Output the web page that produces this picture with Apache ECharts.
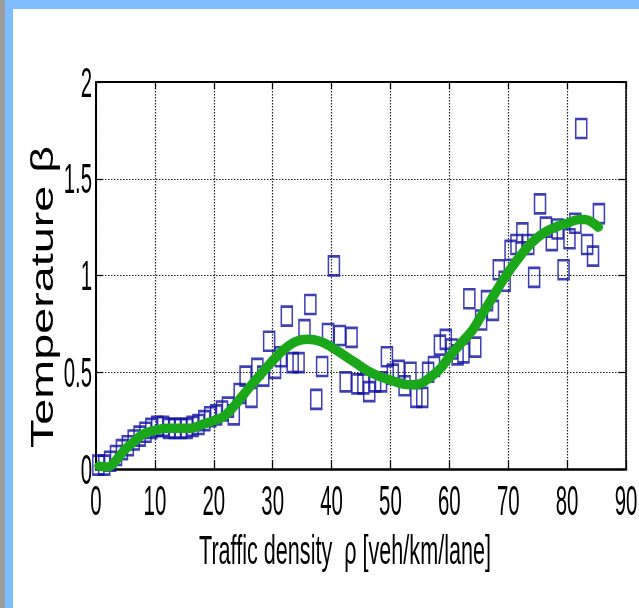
<!DOCTYPE html>
<html>
<head>
<meta charset="utf-8">
<script src="https://cdn.jsdelivr.net/npm/echarts@6/dist/echarts.min.js"></script>
<style>
  html, body { margin:0; padding:0; width:639px; height:608px; background:#ffffff; overflow:hidden; }
  #topband { position:absolute; left:0; top:0; width:639px; height:9px; background:#7fbbff; }
  #leftblue { position:absolute; left:0; top:0; width:13px; height:608px; background:#7fbbff; }
  #leftgray { position:absolute; left:0; top:0; width:5px; height:608px; background:#9c9c9a; }
  #chart { position:absolute; left:0; top:0; width:639px; height:608px; }
</style>
</head>
<body>
<div id="topband"></div>
<div id="leftblue"></div>
<div id="leftgray"></div>
<div id="chart"></div>
<script>
// ---- data ----
const xTicks = [0, 10, 20, 30, 40, 50, 60, 70, 80, 90];
const yTicks = [0, 0.5, 1, 1.5, 2];
const xTitle = 'Traffic density  \u03c1 [veh/km/lane]';
const yTitle = 'Temperature \u03b2';

const densityX = [0.4,1.4,2.4,3.4,4.4,5.4,6.4,7.4,8.4,9.4,10.4,11.4,12.4,13.4,14.4,15.4,16.4,17.4,18.4,19.4,
  20.4,21.4,22.4,23.4,24.4,25.4,26.4,27.4,28.4,29.4,30.4,31.4,32.4,33.4,34.4,35.4,36.4,37.4,38.4,39.4,
  40.4,41.4,42.4,43.4,44.4,45.4,46.4,47.4,48.4,49.4,50.4,51.4,52.4,53.4,54.4,55.4,56.4,57.4,58.4,59.4,
  60.4,61.4,62.4,63.4,64.4,65.4,66.4,67.4,68.4,69.4,70.4,71.4,72.4,73.4,74.4,75.4,76.4,77.4,78.4,79.4,
  80.4,81.4,82.4,83.4,84.4,85.4];
const betaY = [0.02,0.02,0.04,0.07,0.10,0.12,0.15,0.17,0.19,0.21,0.22,0.22,0.21,0.21,0.21,0.21,0.22,0.23,0.25,0.27,
  0.28,0.30,0.32,0.28,0.39,0.48,0.37,0.52,0.48,0.66,0.52,0.58,0.79,0.55,0.55,0.72,0.85,0.36,0.53,0.70,
  1.05,0.69,0.45,0.68,0.44,0.44,0.40,0.45,0.45,0.58,0.49,0.51,0.43,0.50,0.37,0.37,0.50,0.53,0.64,0.67,
  0.62,0.59,0.60,0.88,0.63,0.77,0.87,0.82,1.03,0.97,1.13,1.16,1.22,1.16,0.99,1.37,1.25,1.18,1.24,1.03,
  1.19,1.27,1.76,1.16,1.10,1.32];

const fitX = [0.5,2,3,4.6,6,8,10,12,14,16,18,20,21.6,23,24.4,26,28,30,32,34,36,38,40,42,44,46,48,50,52,53.5,
  55,57,58.5,60,62,64,65,67,69,70.3,72,74,76,78,80,82,83,84,85.3];
const fitY = [0.015,0.01,0.03,0.09,0.13,0.18,0.20,0.21,0.21,0.21,0.23,0.25,0.27,0.31,0.36,0.42,0.49,0.56,0.62,0.66,
  0.67,0.66,0.63,0.59,0.55,0.51,0.48,0.46,0.44,0.435,0.44,0.48,0.52,0.58,0.65,0.72,0.77,0.87,0.97,1.03,
  1.10,1.17,1.22,1.25,1.27,1.29,1.29,1.28,1.25];

const scatterData = densityX.map((x, i) => [x, betaY[i]]);
const fitData = fitX.map((x, i) => [x, fitY[i]]);

const baseFont = '"Liberation Sans", Arial, sans-serif';
const chart = echarts.init(document.getElementById('chart'), null, { renderer: 'canvas' });

const gridLine = { show: true, lineStyle: { color: '#222', type: [1.5, 1.5], width: 1.2 } };

function axisCommon(min, max, interval, pos, lineWidth, tickLen, split) {
  return {
    type: 'value', min: min, max: max, interval: interval, position: pos,
    axisLine: { show: true, onZero: false, lineStyle: { color: '#000', width: lineWidth } },
    axisTick: { show: true, inside: true, length: tickLen, lineStyle: { color: '#000', width: 1.2 } },
    axisLabel: { show: false },
    splitLine: split ? gridLine : { show: false }
  };
}

const xMin = xTicks[0], xMax = xTicks[xTicks.length - 1], xInt = xTicks[1] - xTicks[0];
const yMin = yTicks[0], yMax = yTicks[yTicks.length - 1], yInt = yTicks[1] - yTicks[0];

chart.setOption({
  backgroundColor: 'transparent',
  animation: false,
  grid: { left: 96, right: 13, top: 82, bottom: 139, containLabel: false },
  xAxis: [
    axisCommon(xMin, xMax, xInt, 'bottom', 2.5, 9, true),
    axisCommon(xMin, xMax, xInt, 'top', 2, 7, false)
  ],
  yAxis: [
    axisCommon(yMin, yMax, yInt, 'left', 2, 7, true),
    axisCommon(yMin, yMax, yInt, 'right', 1.5, 7, false)
  ],
  series: [
    {
      type: 'scatter', xAxisIndex: 0, yAxisIndex: 0,
      data: scatterData,
      symbol: 'rect', symbolSize: [11, 19],
      itemStyle: { color: 'rgba(0,0,0,0)', borderColor: '#1010a2', borderWidth: 2 },
      emphasis: { disabled: true },
      z: 2
    },
    {
      type: 'line', xAxisIndex: 0, yAxisIndex: 0,
      data: fitData, smooth: 0.4, showSymbol: false, symbol: 'none',
      lineStyle: { color: '#1aa81a', width: 9.5, cap: 'round' },
      emphasis: { disabled: true },
      z: 3
    }
  ]
});

// Tick labels and axis titles: real text, positioned from the axes' own scales,
// drawn tall and narrow like the reference figure.
const gfx = [];
xTicks.forEach(v => {
  const p = chart.convertToPixel({ xAxisIndex: 0, yAxisIndex: 0 }, [v, yMin]);
  gfx.push({
    type: 'text', x: p[0], y: p[1] + 34, scaleX: 0.68, scaleY: 1.4, z: 10,
    style: { text: String(v), fill: '#000', font: '30px ' + baseFont,
      textAlign: 'center', textVerticalAlign: 'middle' }
  });
});
yTicks.forEach(v => {
  const p = chart.convertToPixel({ xAxisIndex: 0, yAxisIndex: 0 }, [xMin, v]);
  gfx.push({
    type: 'text', x: p[0] - 4, y: p[1] + 3, scaleX: 0.68, scaleY: 1.4, z: 10,
    style: { text: String(v), fill: '#000', font: '30px ' + baseFont,
      textAlign: 'right', textVerticalAlign: 'middle' }
  });
});
gfx.push({
  type: 'text', x: 44, y: 297, rotation: Math.PI / 2, scaleX: 1.46, scaleY: 1, z: 10,
  style: { text: yTitle, fill: '#000', font: '32px ' + baseFont,
    textAlign: 'center', textVerticalAlign: 'middle' }
});
gfx.push({
  type: 'text', x: 345, y: 553, scaleX: 0.8, scaleY: 1.52, z: 10,
  style: { text: xTitle, fill: '#000', font: '27px ' + baseFont,
    textAlign: 'center', textVerticalAlign: 'middle' }
});
chart.setOption({ graphic: gfx });
</script>
</body>
</html>
